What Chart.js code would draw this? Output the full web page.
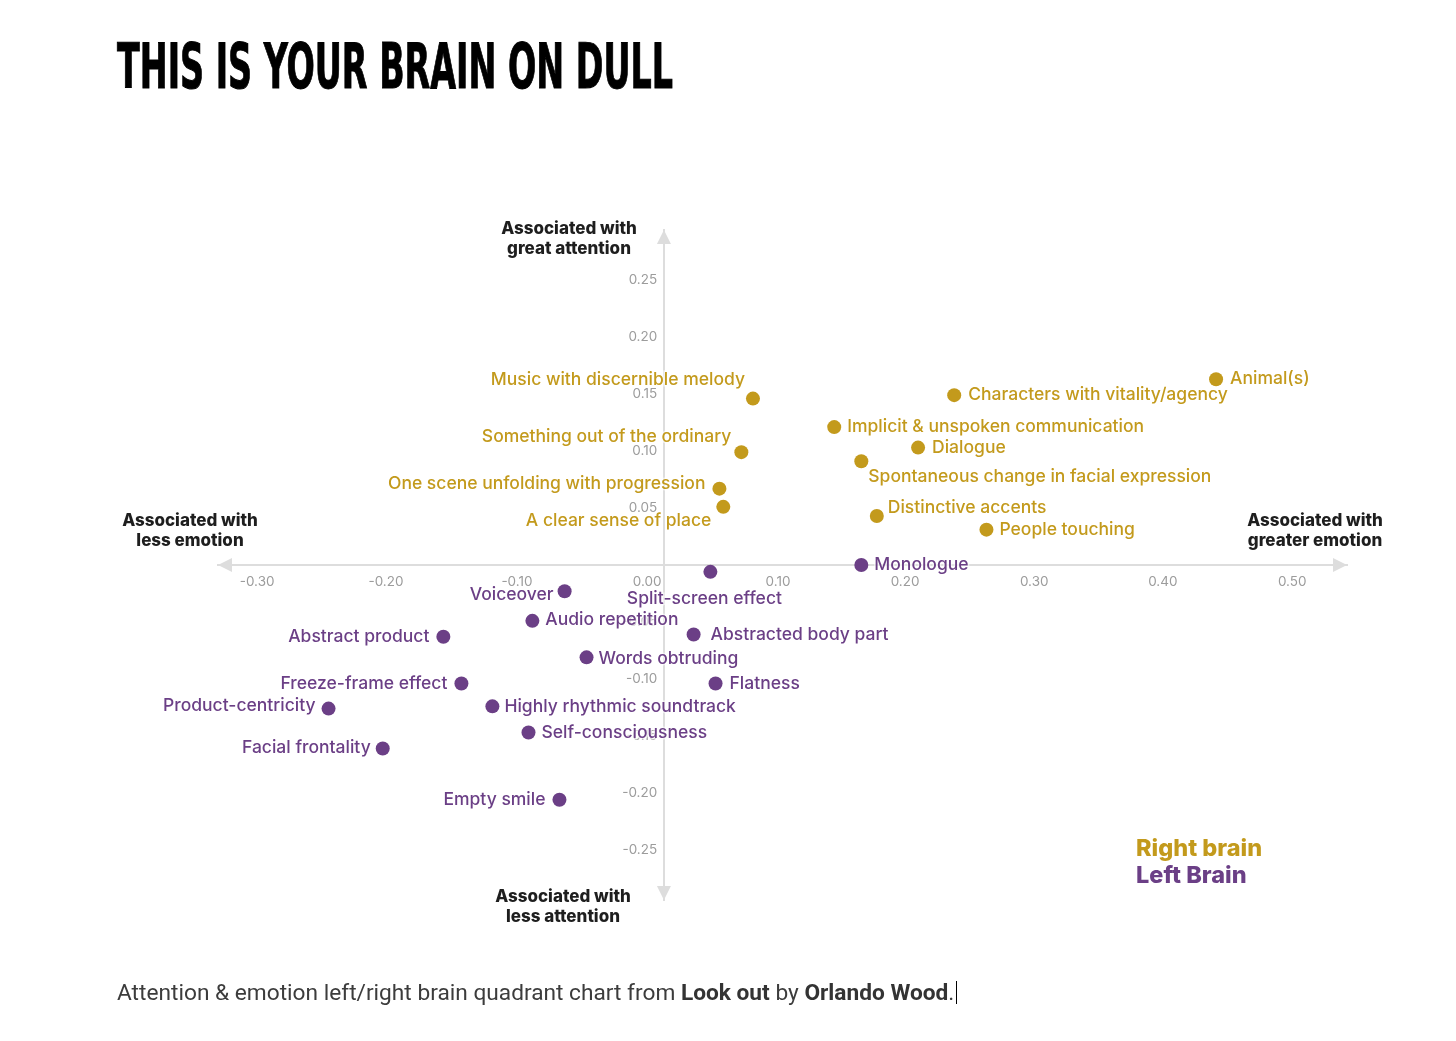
<!DOCTYPE html>
<html>
<head>
<meta charset="utf-8">
<script src="https://cdn.jsdelivr.net/npm/chart.js@4.4.1/dist/chart.umd.min.js"></script>
<style>
  html, body { margin: 0; padding: 0; background: #fff; }
  body { width: 1456px; height: 1041px; position: relative; overflow: hidden; font-family: Inter, "Noto Sans", sans-serif; }
  #chart { position: absolute; left: 0; top: 0; }
  .title { position: absolute; left: 117px; top: 35px; font-family: "DejaVu Sans Condensed", "DejaVu Sans", sans-serif; font-weight: bold; font-size: 63px; line-height: 63px; color: #000; white-space: nowrap; transform-origin: 0 0; -webkit-text-stroke: 1px #000; }
  .axt { position: absolute; width: 240px; text-align: center; font-weight: 800; font-size: 17px; line-height: 20px; color: #1e1e1e; }
  .legend { position: absolute; left: 1136px; font-weight: 800; font-size: 23.5px; line-height: 27px; }
  .caption { position: absolute; left: 117px; top: 979px; font-family: Roboto, sans-serif; font-size: 22.7px; line-height: 27px; color: #3c3c3c; white-space: nowrap; }
  .caption b { font-weight: 700; color: #333; }
  .cursor { display: inline-block; width: 1px; height: 23px; background: #000; vertical-align: -4px; margin-left: 2px; }
</style>
</head>
<body>
<div class="title" id="title">THIS IS YOUR BRAIN ON DULL</div>
<canvas id="chart" width="1456" height="1041"></canvas>
<div class="axt" style="left:449px; top:218px;">Associated with<br>great attention</div>
<div class="axt" style="left:443px; top:886px;">Associated with<br>less attention</div>
<div class="axt" style="left:70px; top:510px;">Associated with<br>less emotion</div>
<div class="axt" style="left:1195px; top:510px;">Associated with<br>greater emotion</div>
<div class="legend" style="top:834px; color:#C39A1C;">Right brain</div>
<div class="legend" style="top:861px; color:#6B3F86;">Left Brain</div>
<div class="caption">Attention &amp; emotion left/right brain quadrant chart from <b>Look out</b> by <b>Orlando Wood</b>.<span class="cursor"></span></div>
<script>
// tick labels
const xTicks = [-0.3, -0.2, -0.1, 0, 0.1, 0.2, 0.3, 0.4, 0.5];
const yTicks = [0.25, 0.2, 0.15, 0.1, 0.05, -0.05, -0.1, -0.15, -0.2, -0.25];

// right brain features (emotion, attention)
const rightLabels = ['Animal(s)', 'Characters with vitality/agency', 'Implicit & unspoken communication',
  'Dialogue', 'Spontaneous change in facial expression', 'Distinctive accents', 'People touching',
  'Music with discernible melody', 'Something out of the ordinary', 'One scene unfolding with progression',
  'A clear sense of place'];
const rightX = [0.428, 0.225, 0.132, 0.197, 0.153, 0.165, 0.250, 0.069, 0.060, 0.043, 0.046];
const rightY = [0.163, 0.149, 0.121, 0.103, 0.091, 0.043, 0.031, 0.146, 0.099, 0.067, 0.051];

// left brain features
const leftLabels = ['Monologue', 'Split-screen effect', 'Voiceover', 'Audio repetition', 'Abstract product',
  'Abstracted body part', 'Words obtruding', 'Freeze-frame effect', 'Flatness', 'Product-centricity',
  'Highly rhythmic soundtrack', 'Self-consciousness', 'Facial frontality', 'Empty smile'];
const leftX = [0.153, 0.036, -0.077, -0.102, -0.171, 0.023, -0.060, -0.157, 0.040, -0.260, -0.133, -0.105, -0.218, -0.081];
const leftY = [0.000, -0.006, -0.023, -0.049, -0.063, -0.061, -0.081, -0.104, -0.104, -0.126, -0.124, -0.147, -0.161, -0.206];

// where each label sits relative to its dot: [dx, dy, textAlign]
const rightPlace = [[14, 0, 'left'], [14, 0, 'left'], [13, 0, 'left'], [14, 0, 'left'], [7, 15, 'left'],
  [11, -8, 'left'], [13, 0, 'left'], [-8, -19, 'right'], [-10, -15, 'right'], [-14, -5, 'right'], [-12, 14, 'right']];
const leftPlace = [[13, 0, 'left'], [-6, 27, 'center'], [-11, 4, 'right'], [13, -1, 'left'], [-14, 0, 'right'],
  [17, 0, 'left'], [12, 1, 'left'], [-14, 0, 'right'], [14, 0, 'left'], [-13, -3, 'right'],
  [12, 0, 'left'], [13, 0, 'left'], [-12, -1, 'right'], [-14, 0, 'right']];

const gold = '#C39A1C';
const purple = '#6B3F86';
const axisGrey = '#dddddd';

const pointLabels = {
  id: 'pointLabels',
  afterDatasetsDraw(chart) {
    const ctx = chart.ctx;
    ctx.save();
    ctx.font = '500 17.5px Inter, "Noto Sans", sans-serif';
    ctx.textBaseline = 'middle';
    chart.data.datasets.forEach((ds, di) => {
      const meta = chart.getDatasetMeta(di);
      meta.data.forEach((pt, i) => {
        const [dx, dy, align] = ds.place[i];
        ctx.textAlign = align;
        ctx.lineWidth = 3;
        ctx.strokeStyle = 'rgba(255,255,255,0.6)';
        ctx.strokeText(ds.names[i], pt.x + dx, pt.y + dy);
        ctx.fillStyle = ds.backgroundColor;
        ctx.fillText(ds.names[i], pt.x + dx, pt.y + dy);
      });
    });
    ctx.restore();
  }
};

const arrows = {
  id: 'arrows',
  afterDraw(chart) {
    const {ctx, chartArea: a, scales: {x, y}} = chart;
    const y0 = y.getPixelForValue(0);
    const x0 = x.getPixelForValue(0);
    const L = 14, W = 7;
    ctx.save();
    ctx.fillStyle = axisGrey;
    const tri = (p) => { ctx.beginPath(); ctx.moveTo(p[0], p[1]); ctx.lineTo(p[2], p[3]); ctx.lineTo(p[4], p[5]); ctx.closePath(); ctx.fill(); };
    tri([a.left, y0, a.left + L, y0 - W, a.left + L, y0 + W]);
    tri([a.right, y0, a.right - L, y0 - W, a.right - L, y0 + W]);
    tri([x0, a.top, x0 - W, a.top + L, x0 + W, a.top + L]);
    tri([x0, a.bottom, x0 - W, a.bottom - L, x0 + W, a.bottom - L]);
    ctx.restore();
  }
};

const tickFont = { family: 'Inter, "Noto Sans", sans-serif', size: 13.5 };

new Chart(document.getElementById('chart'), {
  type: 'scatter',
  data: {
    datasets: [
      { label: 'Right brain', names: rightLabels, place: rightPlace,
        data: rightX.map((v, i) => ({ x: v, y: rightY[i] })),
        backgroundColor: gold, borderWidth: 0, pointRadius: 7, pointHoverRadius: 7 },
      { label: 'Left Brain', names: leftLabels, place: leftPlace,
        data: leftX.map((v, i) => ({ x: v, y: leftY[i] })),
        backgroundColor: purple, borderWidth: 0, pointRadius: 7, pointHoverRadius: 7 }
    ]
  },
  options: {
    responsive: false,
    animation: false,
    devicePixelRatio: 1,
    layout: { padding: { left: 218, right: 109, top: 230, bottom: 141 } },
    plugins: { legend: { display: false }, tooltip: { enabled: false } },
    scales: {
      x: {
        type: 'linear', position: { y: 0 }, min: -0.3457, max: 0.5295,
        afterBuildTicks: (s) => { s.ticks = xTicks.map(v => ({ value: v })); },
        grid: { display: false, drawTicks: false },
        border: { color: axisGrey, width: 2 },
        ticks: { align: 'end', padding: 9, autoSkip: false, maxRotation: 0, color: '#9c9c9c', font: tickFont,
          callback: (v) => v.toFixed(2) + '\u2009' }
      },
      y: {
        type: 'linear', position: { x: 0 }, min: -0.2939, max: 0.2939,
        afterBuildTicks: (s) => { s.ticks = yTicks.map(v => ({ value: v })); },
        grid: { display: false, drawTicks: false },
        border: { color: axisGrey, width: 2 },
        ticks: { autoSkip: false, color: '#9c9c9c', font: tickFont,
          callback: (v) => v.toFixed(2) + '\u2002' }
      }
    }
  },
  plugins: [pointLabels, arrows]
});

// squeeze the title to the condensed width of the original
const t = document.getElementById('title');
const w = t.getBoundingClientRect().width;
t.style.transform = 'scaleX(' + (556 / w) + ')';
</script>
</body>
</html>
